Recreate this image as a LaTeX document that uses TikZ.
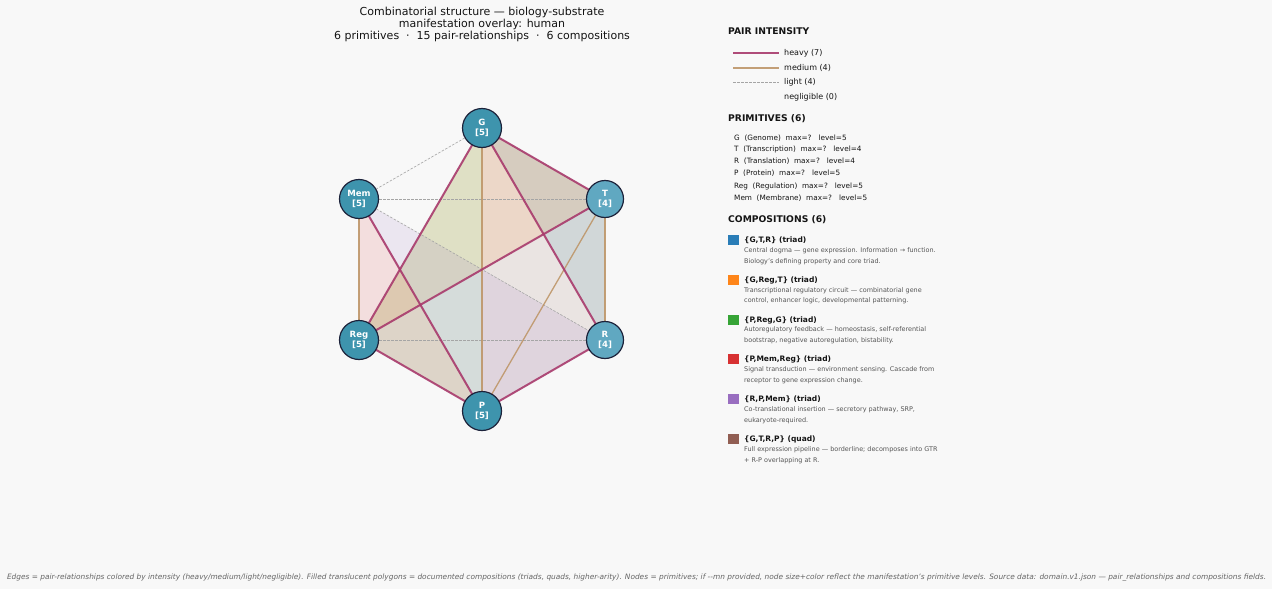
\documentclass[tikz,border=0pt]{standalone}
\usepackage{fontspec}
\setmainfont{DejaVu Sans}
\definecolor{bgc}{RGB}{248,248,248}
\definecolor{heavyc}{RGB}{168,58,108}
\definecolor{mediumc}{RGB}{190,150,105}
\definecolor{lightc}{RGB}{165,165,165}
\definecolor{nodefive}{RGB}{62,148,173}
\definecolor{nodefour}{RGB}{96,168,193}
\definecolor{nodeedge}{RGB}{28,34,58}
\definecolor{tabblue}{RGB}{31,119,180}
\definecolor{taborange}{RGB}{255,127,14}
\definecolor{tabgreen}{RGB}{44,160,44}
\definecolor{tabred}{RGB}{214,39,40}
\definecolor{tabpurple}{RGB}{148,103,189}
\definecolor{tabbrown}{RGB}{140,86,75}
\definecolor{gtrfill}{RGB}{34,129,146}
\definecolor{txtc}{RGB}{20,20,20}
\definecolor{descc}{RGB}{85,85,85}
\definecolor{footc}{RGB}{100,100,100}
\pgfdeclarelayer{back}
\pgfdeclarelayer{polys}
\pgfdeclarelayer{edges}
\pgfsetlayers{back,polys,edges,main}
\tikzset{
  prim/.style={circle, draw=nodeedge, line width=1.2pt, inner sep=0pt, text=white,
    align=center, font=\bfseries\fontsize{8.6}{10}\selectfont},
  primfive/.style={prim, fill=nodefive, minimum size=39pt},
  primfour/.style={prim, fill=nodefour, minimum size=37pt},
  heavyedge/.style={draw=heavyc, line width=2pt, draw opacity=0.9},
  mediumedge/.style={draw=mediumc, line width=1.3pt, draw opacity=0.9},
  lightedge/.style={draw=lightc, line width=0.6pt, dash pattern=on 2.5pt off 1.5pt},
  comp/.style={fill opacity=0.12},
  lbl/.style={anchor=west, inner sep=0pt, text=txtc},
  hdr/.style={lbl, font=\bfseries\fontsize{9.2}{11}\selectfont},
  entry/.style={lbl, font=\fontsize{8}{9.5}\selectfont},
  primline/.style={lbl, font=\fontsize{7.3}{8.5}\selectfont},
  ctitle/.style={lbl, font=\bfseries\fontsize{7.5}{9}\selectfont},
  cdesc/.style={lbl, text=descc, font=\fontsize{6.45}{7.5}\selectfont},
  swatch/.style={minimum size=10.5pt, inner sep=0pt, fill opacity=0.95},
}
\begin{document}
\begin{tikzpicture}[x=1pt,y=-1pt]
\begin{pgfonlayer}{back}
\useasboundingbox[fill=bgc] (0,0) rectangle (1272,589);
\end{pgfonlayer}

% title
\node[align=center, text=txtc, font=\fontsize{11}{12}\selectfont] (title) at (482,24)
  {Combinatorial structure — biology-substrate\\manifestation overlay: human\\6 primitives\ \ ·\ \ 15 pair-relationships\ \ ·\ \ 6 compositions};

% primitives
\node[primfive] (G) at (482,128) {G\\{[5]}};
\node[primfour] (T) at (605,199) {T\\{[4]}};
\node[primfour] (R) at (605,340) {R\\{[4]}};
\node[primfive] (P) at (482,411) {P\\{[5]}};
\node[primfive] (Reg) at (359,340) {Reg\\{[5]}};
\node[primfive] (Mem) at (359,199) {Mem\\{[5]}};

% compositions
\begin{pgfonlayer}{polys}
\fill[comp, tabbrown] (G.center) -- (T.center) -- (R.center) -- (P.center) -- cycle;
\fill[comp, gtrfill] (G.center) -- (T.center) -- (R.center) -- cycle;
\fill[comp, taborange] (G.center) -- (Reg.center) -- (T.center) -- cycle;
\fill[comp, tabgreen] (P.center) -- (Reg.center) -- (G.center) -- cycle;
\fill[comp, tabred] (P.center) -- (Mem.center) -- (Reg.center) -- cycle;
\fill[comp, tabpurple] (R.center) -- (P.center) -- (Mem.center) -- cycle;
\end{pgfonlayer}

% pair relationships
\begin{pgfonlayer}{edges}
\draw[lightedge] (G.center) -- (Mem.center);
\draw[lightedge] (Mem.center) -- (T.center);
\draw[lightedge] (Mem.center) -- (R.center);
\draw[lightedge] (Reg.center) -- (R.center);
\draw[mediumedge] (G.center) -- (P.center);
\draw[mediumedge] (T.center) -- (R.center);
\draw[mediumedge] (Mem.center) -- (Reg.center);
\draw[mediumedge] (T.center) -- (P.center);
\draw[heavyedge] (G.center) -- (T.center);
\draw[heavyedge] (G.center) -- (Reg.center);
\draw[heavyedge] (G.center) -- (R.center);
\draw[heavyedge] (T.center) -- (Reg.center);
\draw[heavyedge] (Mem.center) -- (P.center);
\draw[heavyedge] (R.center) -- (P.center);
\draw[heavyedge] (Reg.center) -- (P.center);
\end{pgfonlayer}

% legend: pair intensity
\node[hdr] (hpair) at (728,31) {PAIR INTENSITY};
\coordinate (lh1) at (733,53); \coordinate (lh2) at (779,53);
\coordinate (lm1) at (733,68); \coordinate (lm2) at (779,68);
\coordinate (ll1) at (733,82); \coordinate (ll2) at (779,82);
\draw[heavyedge] (lh1) -- (lh2);
\draw[mediumedge] (lm1) -- (lm2);
\draw[lightedge] (ll1) -- (ll2);
\node[entry] (eh) at (784,53) {heavy (7)};
\node[entry] (em) at (784,68) {medium (4)};
\node[entry] (el) at (784,82) {light (4)};
\node[entry] (en) at (784,97) {negligible (0)};

% legend: primitives
\node[hdr] (hprim) at (728,119) {PRIMITIVES (6)};
\node[primline] (p1) at (734,138) {G\ \ (Genome)\ \ max=?\ \ \ level=5};
\node[primline] (p2) at (734,149.5) {T\ \ (Transcription)\ \ max=?\ \ \ level=4};
\node[primline] (p3) at (734,161.5) {R\ \ (Translation)\ \ max=?\ \ \ level=4};
\node[primline] (p4) at (734,173.5) {P\ \ (Protein)\ \ max=?\ \ \ level=5};
\node[primline] (p5) at (734,186) {Reg\ \ (Regulation)\ \ max=?\ \ \ level=5};
\node[primline] (p6) at (734,198) {Mem\ \ (Membrane)\ \ max=?\ \ \ level=5};

% legend: compositions
\node[hdr] (hcomp) at (728,220) {COMPOSITIONS (6)};

\node[swatch, fill=tabblue] (s1) at (733.5,240) {};
\node[ctitle] (c1) at (744,240) {\{G,T,R\} (triad)};
\node[cdesc] (d1a) at (744,251) {Central dogma — gene expression. Information → function.};
\node[cdesc] (d1b) at (744,261.5) {Biology's defining property and core triad.};

\node[swatch, fill=taborange] (s2) at (733.5,280) {};
\node[ctitle] (c2) at (744,280) {\{G,Reg,T\} (triad)};
\node[cdesc] (d2a) at (744,290.5) {Transcriptional regulatory circuit — combinatorial gene};
\node[cdesc] (d2b) at (744,300.5) {control, enhancer logic, developmental patterning.};

\node[swatch, fill=tabgreen] (s3) at (733.5,320) {};
\node[ctitle] (c3) at (744,320) {\{P,Reg,G\} (triad)};
\node[cdesc] (d3a) at (744,330) {Autoregulatory feedback — homeostasis, self-referential};
\node[cdesc] (d3b) at (744,341) {bootstrap, negative autoregulation, bistability.};

\node[swatch, fill=tabred] (s4) at (733.5,359) {};
\node[ctitle] (c4) at (744,359.5) {\{P,Mem,Reg\} (triad)};
\node[cdesc] (d4a) at (744,370) {Signal transduction — environment sensing. Cascade from};
\node[cdesc] (d4b) at (744,381) {receptor to gene expression change.};

\node[swatch, fill=tabpurple] (s5) at (733.5,399) {};
\node[ctitle] (c5) at (744,399.5) {\{R,P,Mem\} (triad)};
\node[cdesc] (d5a) at (744,410) {Co-translational insertion — secretory pathway, SRP,};
\node[cdesc] (d5b) at (744,421) {eukaryote-required.};

\node[swatch, fill=tabbrown] (s6) at (733.5,439) {};
\node[ctitle] (c6) at (744,439) {\{G,T,R,P\} (quad)};
\node[cdesc] (d6a) at (744,450) {Full expression pipeline — borderline; decomposes into GTR};
\node[cdesc] (d6b) at (744,460.5) {+ R-P overlapping at R.};

% footer
\node[text=footc, inner sep=0pt, font=\itshape\fontsize{7.4}{8}\selectfont] (foot) at (636.5,578)
  {Edges = pair-relationships colored by intensity (heavy/medium/light/negligible). Filled translucent polygons = documented compositions (triads, quads, higher-arity). Nodes = primitives; if -{}-mn provided, node size+color reflect the manifestation's primitive levels. Source data: domain.v1.json — pair\_relationships and compositions fields.};
\end{tikzpicture}
\end{document}
